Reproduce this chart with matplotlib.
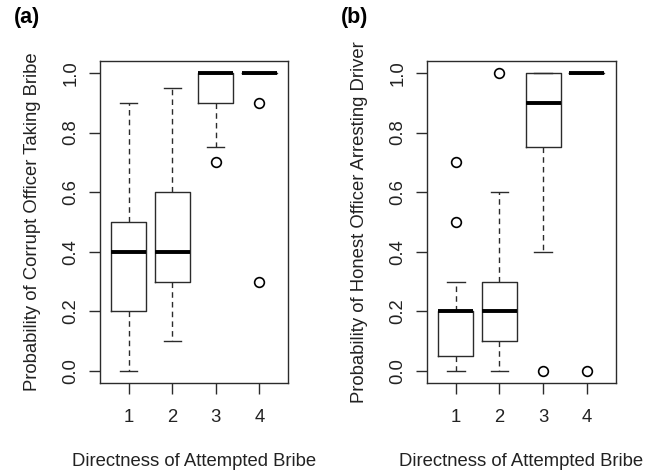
import matplotlib
matplotlib.use("Agg")
import matplotlib.pyplot as plt

plt.rcParams['font.family'] = ['Liberation Sans', 'DejaVu Sans']

categories = [1, 2, 3, 4]
# panel (a): Probability of Corrupt Officer Taking Bribe
a_whislo = [0.0, 0.1, 0.75, 1.0]
a_q1 = [0.2, 0.3, 0.9, 1.0]
a_med = [0.4, 0.4, 1.0, 1.0]
a_q3 = [0.5, 0.6, 1.0, 1.0]
a_whishi = [0.9, 0.95, 1.0, 1.0]
a_fliers = [[], [], [0.7], [0.9, 0.3]]
# panel (b): Probability of Honest Officer Arresting Driver
b_whislo = [0.0, 0.0, 0.4, 1.0]
b_q1 = [0.05, 0.1, 0.75, 1.0]
b_med = [0.2, 0.2, 0.9, 1.0]
b_q3 = [0.2, 0.3, 1.0, 1.0]
b_whishi = [0.3, 0.6, 1.0, 1.0]
b_fliers = [[0.5, 0.7], [1.0], [0.0], [0.0]]

yticks = [0.0, 0.2, 0.4, 0.6, 0.8, 1.0]
ytick_labels = ["0.0", "0.2", "0.4", "0.6", "0.8", "1.0"]
xlabel = "Directness of Attempted Bribe"
ylabel_a = "Probability of Corrupt Officer Taking Bribe"
ylabel_b = "Probability of Honest Officer Arresting Driver"

W, H = 660, 473
fig = plt.figure(figsize=(W / 100, H / 100), dpi=100)

C = "#2b2b2b"
FS = 13.3

def panel(rect, whislo, q1, med, q3, whishi, fliers, ylabel, tag, tagx):
    ax = fig.add_axes(rect)
    stats = []
    for i in range(len(categories)):
        stats.append(dict(whislo=whislo[i], q1=q1[i], med=med[i], q3=q3[i],
                          whishi=whishi[i], fliers=fliers[i]))
    ax.bxp(stats, positions=categories, widths=0.8, patch_artist=False,
           showfliers=True,
           boxprops=dict(color=C, linewidth=1.0),
           whiskerprops=dict(color=C, linewidth=1.0, linestyle=(0, (4, 3))),
           capprops=dict(color=C, linewidth=1.0),
           medianprops=dict(color="black", linewidth=2.8, solid_capstyle="butt"),
           flierprops=dict(marker="o", markerfacecolor="none", markeredgecolor="black",
                           markersize=7, markeredgewidth=1.2),
           capwidths=0.4)
    ax.set_xlim(0.5 - 0.16, 4.5 + 0.16)
    ax.set_ylim(-0.04, 1.04)
    ax.set_xticks(categories)
    ax.set_xticklabels([str(c) for c in categories])
    ax.set_yticks(yticks)
    ax.set_yticklabels(ytick_labels, rotation=90, va="center")
    ax.tick_params(axis="both", direction="out", length=8, width=1.0, color=C,
                   labelsize=FS, labelcolor="#222222")
    ax.tick_params(axis="x", pad=11)
    ax.tick_params(axis="y", pad=7)
    for s in ax.spines.values():
        s.set_color(C)
        s.set_linewidth(1.0)
    ax.set_xlabel(xlabel, fontsize=FS, color="#222222", labelpad=19)
    ax.set_ylabel(ylabel, fontsize=FS, color="#222222", labelpad=15)
    fig.text(tagx, 1 - 17 / H, tag, fontsize=15.5, fontweight="bold", va="center", ha="left")
    return ax

bottom = 1 - 383 / H
height = (383 - 61) / H
panel([100 / W, bottom, 188 / W, height], a_whislo, a_q1, a_med, a_q3, a_whishi,
      a_fliers, ylabel_a, "(a)", 14 / W)
panel([427 / W, bottom, 188.5 / W, height], b_whislo, b_q1, b_med, b_q3, b_whishi,
      b_fliers, ylabel_b, "(b)", 341 / W)

fig.savefig("out.png", dpi=100, facecolor="white")
